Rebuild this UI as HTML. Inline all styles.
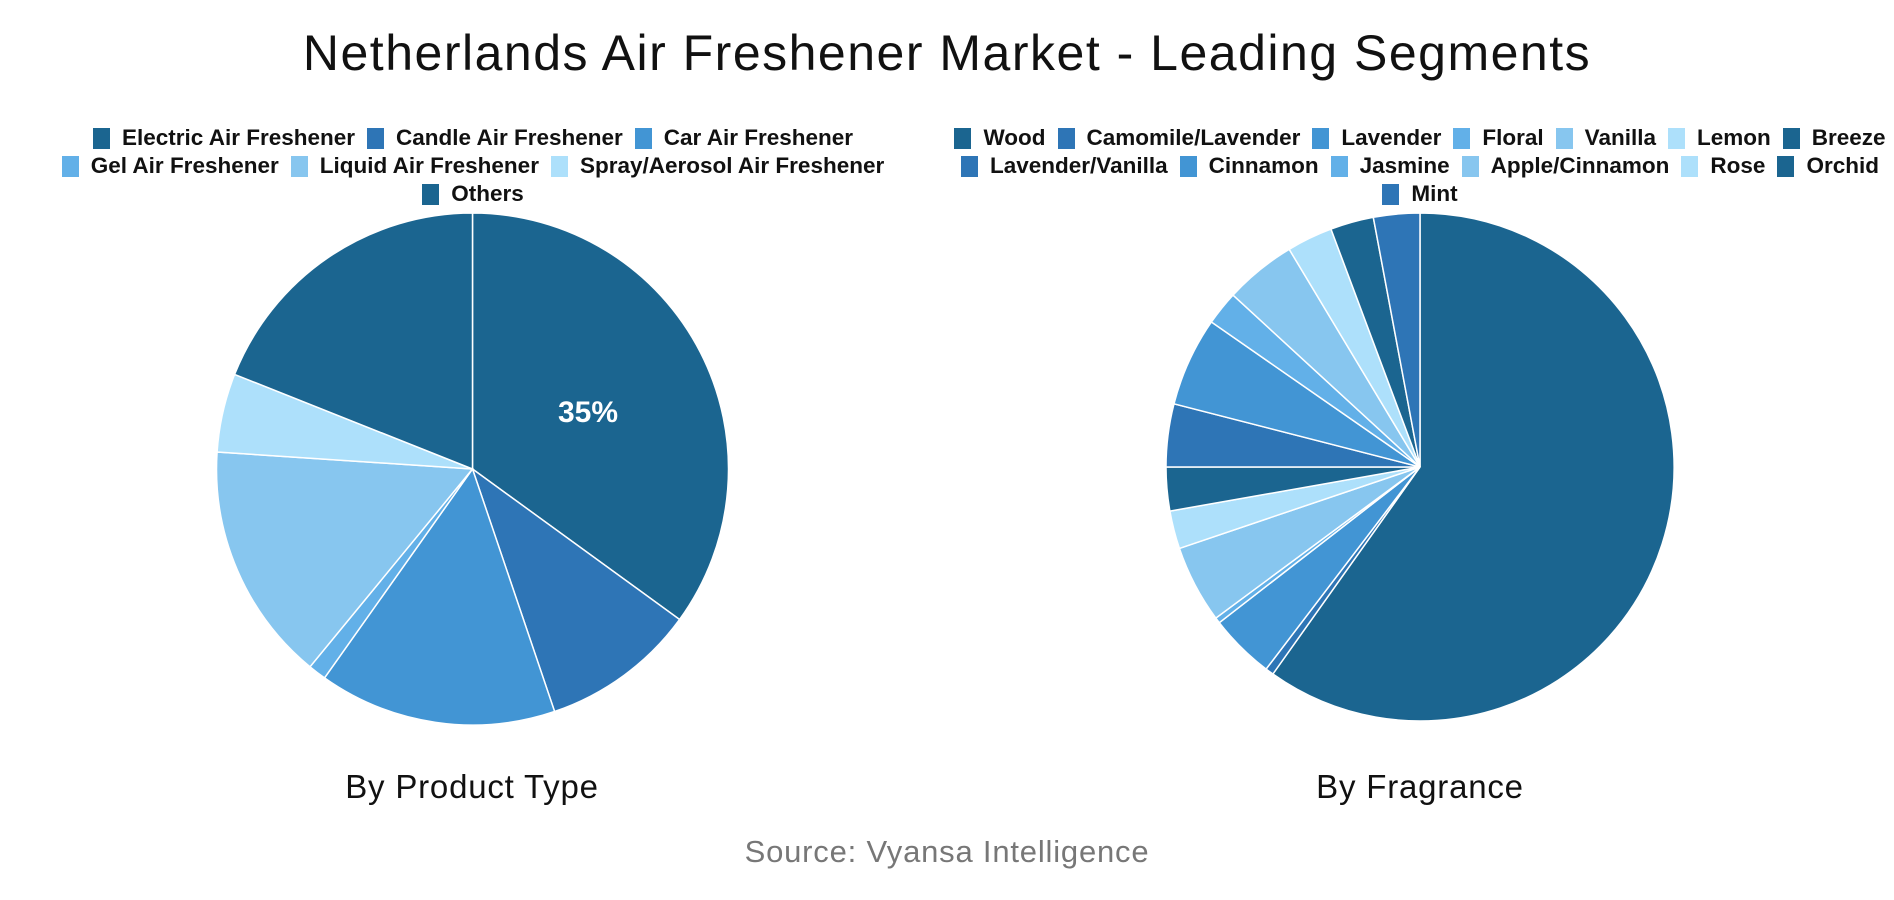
<!DOCTYPE html>
<html><head><meta charset="utf-8"><style>
body{margin:0;width:1894px;height:900px;background:#fff;position:relative;overflow:hidden;font-family:"Liberation Sans",sans-serif}
.t{position:absolute;left:0;width:1894px;text-align:center;top:24px;font-size:50px;color:#111;letter-spacing:1.5px}
.leg{position:absolute;width:940px;font-weight:bold;font-size:22.5px;color:#111}
.row{display:flex;justify-content:center;height:28px;align-items:center;white-space:nowrap}
.it{display:flex;align-items:center;margin:0 6px}
.b{width:17px;height:21px;margin-right:12px;display:inline-block}
.s{position:absolute;font-size:33px;color:#111;text-align:center;width:600px;letter-spacing:0.8px}
</style></head><body>
<div class="t">Netherlands Air Freshener Market - Leading Segments</div>
<div class="leg" style="left:3px;top:124px">
<div class="row"><span class="it"><i class="b" style="background:#1b6590"></i>Electric Air Freshener</span><span class="it"><i class="b" style="background:#2e75b6"></i>Candle Air Freshener</span><span class="it"><i class="b" style="background:#4295d4"></i>Car Air Freshener</span></div>
<div class="row"><span class="it"><i class="b" style="background:#62b0e8"></i>Gel Air Freshener</span><span class="it"><i class="b" style="background:#87c6ef"></i>Liquid Air Freshener</span><span class="it"><i class="b" style="background:#ade0fb"></i>Spray/Aerosol Air Freshener</span></div>
<div class="row"><span class="it"><i class="b" style="background:#1b6590"></i>Others</span></div>
</div>
<div class="leg" style="left:950px;top:124px">
<div class="row"><span class="it"><i class="b" style="background:#1b6590"></i>Wood</span><span class="it"><i class="b" style="background:#2e75b6"></i>Camomile/Lavender</span><span class="it"><i class="b" style="background:#4295d4"></i>Lavender</span><span class="it"><i class="b" style="background:#62b0e8"></i>Floral</span><span class="it"><i class="b" style="background:#87c6ef"></i>Vanilla</span><span class="it"><i class="b" style="background:#ade0fb"></i>Lemon</span><span class="it"><i class="b" style="background:#1b6590"></i>Breeze</span></div>
<div class="row"><span class="it"><i class="b" style="background:#2e75b6"></i>Lavender/Vanilla</span><span class="it"><i class="b" style="background:#4295d4"></i>Cinnamon</span><span class="it"><i class="b" style="background:#62b0e8"></i>Jasmine</span><span class="it"><i class="b" style="background:#87c6ef"></i>Apple/Cinnamon</span><span class="it"><i class="b" style="background:#ade0fb"></i>Rose</span><span class="it"><i class="b" style="background:#1b6590"></i>Orchid</span></div>
<div class="row"><span class="it"><i class="b" style="background:#2e75b6"></i>Mint</span></div>
</div>
<svg width="1894" height="900" style="position:absolute;left:0;top:0" stroke="#fff" stroke-width="1.5">
<g>
<path d="M472.5 469L472.5 213A256 256 0 0 1 679.6 619.5Z" fill="#1b6590"/>
<path d="M472.5 469L679.6 619.5A256 256 0 0 1 554.6 711.5Z" fill="#2e75b6"/>
<path d="M472.5 469L554.6 711.5A256 256 0 0 1 324.5 677.9Z" fill="#4295d4"/>
<path d="M472.5 469L324.5 677.9A256 256 0 0 1 310 666.8Z" fill="#62b0e8"/>
<path d="M472.5 469L310 666.8A256 256 0 0 1 217.1 452Z" fill="#87c6ef"/>
<path d="M472.5 469L217.1 452A256 256 0 0 1 234.6 374.4Z" fill="#ade0fb"/>
<path d="M472.5 469L234.6 374.4A256 256 0 0 1 472.5 213Z" fill="#1b6590"/>
</g>
<text x="588" y="422" fill="#fff" stroke="none" font-weight="bold" font-size="30" text-anchor="middle" font-family="Liberation Sans">35%</text>
<g>
<path d="M1420 467L1420 213A254 254 0 1 1 1272.9 674Z" fill="#1b6590"/>
<path d="M1420 467L1272.9 674A254 254 0 0 1 1266.1 669.1Z" fill="#2e75b6"/>
<path d="M1420 467L1266.1 669.1A254 254 0 0 1 1219.3 622.7Z" fill="#4295d4"/>
<path d="M1420 467L1219.3 622.7A254 254 0 0 1 1215.8 618.1Z" fill="#62b0e8"/>
<path d="M1420 467L1215.8 618.1A254 254 0 0 1 1179.4 548.4Z" fill="#87c6ef"/>
<path d="M1420 467L1179.4 548.4A254 254 0 0 1 1169.9 511.1Z" fill="#ade0fb"/>
<path d="M1420 467L1169.9 511.1A254 254 0 0 1 1166 467Z" fill="#1b6590"/>
<path d="M1420 467L1166 467A254 254 0 0 1 1174 403.8Z" fill="#2e75b6"/>
<path d="M1420 467L1174 403.8A254 254 0 0 1 1211.4 322Z" fill="#4295d4"/>
<path d="M1420 467L1211.4 322A254 254 0 0 1 1233 295.1Z" fill="#62b0e8"/>
<path d="M1420 467L1233 295.1A254 254 0 0 1 1289.2 249.3Z" fill="#87c6ef"/>
<path d="M1420 467L1289.2 249.3A254 254 0 0 1 1331 229.1Z" fill="#ade0fb"/>
<path d="M1420 467L1331 229.1A254 254 0 0 1 1373.3 217.3Z" fill="#1b6590"/>
<path d="M1420 467L1373.3 217.3A254 254 0 0 1 1420 213Z" fill="#2e75b6"/>
</g>
</svg>
<div class="s" style="left:172px;top:768px">By Product Type</div>
<div class="s" style="left:1120px;top:768px">By Fragrance</div>
<div class="s" style="left:647px;top:834px;color:#777;font-size:31px">Source: Vyansa Intelligence</div>
</body></html>
